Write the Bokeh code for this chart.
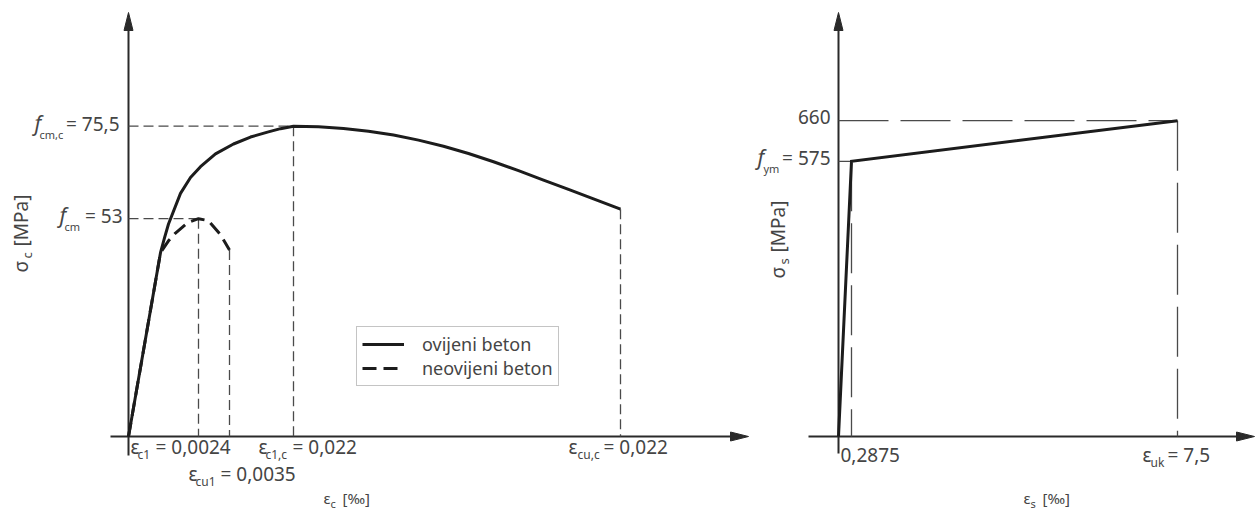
from bokeh.plotting import figure
from bokeh.models import Range1d, Legend, LegendItem
from bokeh.core.properties import value
from bokeh.embed import file_html
from bokeh.resources import INLINE

# ---------------- data ----------------
# concrete (left): schematic horizontal position, stress in MPa
conf_x = [0, 32, 36, 40, 52, 62, 72, 87, 105, 122, 139, 152, 165,
          190, 215, 240, 265, 290, 315, 340, 365, 390, 415, 440, 465, 492]
conf_y = [0, 44.72, 48.33, 51.70, 59.15, 63.00, 65.64, 68.77, 71.17, 72.86, 74.06, 74.90, 75.5,
          75.36, 74.96, 74.27, 73.34, 72.11, 70.62, 68.86, 66.85, 64.68, 62.40, 60.11, 57.83, 55.30]
unc_x = [0, 32, 40, 47, 59, 70, 80, 92, 101]
unc_y = [0, 44.72, 47.6, 49.5, 52.0, 53.0, 52.5, 49.1, 45.4]
fcm_c, fcm = 75.5, 53
x_c1, x_cu1, x_c1c, x_cuc = 70, 101, 165, 492
y_cu1, y_cuc = 45.4, 55.3
labels_left = ["= 75,5", "= 53", "= 0,0024", "= 0,0035", "= 0,022", "= 0,022"]
legend_labels = ["ovijeni beton", "neovijeni beton"]

# steel (right): strain in permille, stress in MPa
st_x = [0, 0.2875, 7.5]
st_y = [0, 575, 660]
labels_right = ["660", "= 575", "0,2875", "= 7,5"]

# ---------------- figure ----------------
W, H = 1256, 510
ky = 4.11           # left: px per MPa, origin at px (128, 436), 1 unit = 1 px in x
kxs, kys = 45.2, 0.4785   # right: px per permille / per MPa, origin at px (838, 436)

p = figure(width=W, height=H, output_backend="svg", toolbar_location=None,
           x_range=Range1d(-128, W - 128), y_range=Range1d(-(H - 436) / ky, 436 / ky),
           x_axis_location=None, y_axis_location=None, min_border=0,
           background_fill_color="white", border_fill_color="white")
p.extra_x_ranges = {"sx": Range1d(-838 / kxs, (W - 838) / kxs)}
p.extra_y_ranges = {"sy": Range1d(-(H - 436) / kys, 436 / kys)}
p.grid.visible = False
p.outline_line_color = None

AX = "#2a2a2a"
CUR = "#1c1c1c"
GUIDE = "#4a4a4a"
TXT = "#454545"
FONT = "Noto Sans"

# ---- left axes ----
ytip = (436 - 12) / ky
p.segment(x0=[0], y0=[-19 / ky], x1=[0], y1=[ytip - 14 / ky], line_color=AX, line_width=2)
p.patch(x=[0, -4.5, 4.5], y=[ytip, ytip - 18 / ky, ytip - 18 / ky], color=AX)
xtip = 748 - 128
p.segment(x0=[-18], y0=[0], x1=[xtip - 14], y1=[0], line_color=AX, line_width=2)
p.patch(x=[xtip, xtip - 18, xtip - 18], y=[0, 4.5 / ky, -4.5 / ky], color=AX)

# ---- left guides ----
gd = dict(line_color=GUIDE, line_width=1.3, line_dash="10 5")
p.segment(x0=[0, 0], y0=[fcm_c, fcm], x1=[x_c1c, x_c1], y1=[fcm_c, fcm], **gd)
p.segment(x0=[x_c1, x_cu1, x_c1c, x_cuc], y0=[fcm, y_cu1, fcm_c, y_cuc],
          x1=[x_c1, x_cu1, x_c1c, x_cuc], y1=[0, 0, 0, 0], **gd)

# ---- left curves ----
r1 = p.line(conf_x, conf_y, line_color=CUR, line_width=3, line_join="round")
r2 = p.line(unc_x, unc_y, line_color=CUR, line_width=3, line_dash="14 7", line_join="round")

leg = Legend(items=[LegendItem(label=legend_labels[0], renderers=[r1]),
                    LegendItem(label=legend_labels[1], renderers=[r2])],
             location=(356, 124), orientation="vertical",
             border_line_color="#8a8a8a", border_line_width=1,
             background_fill_color="white", background_fill_alpha=1,
             label_text_font=FONT, label_text_font_size="18px", label_text_color=TXT,
             glyph_width=42, glyph_height=20, label_height=20, label_standoff=18,
             padding=5, spacing=0, margin=0)
p.add_layout(leg, "center")

ANG = 3.14159265 / 2


def txt(x, y, s, dx, dy, size, italic=False, align="left", rot=False, right=False):
    kw = {}
    if right:
        kw = dict(x_range_name="sx", y_range_name="sy")
    shift = 0.45 * size   # renderer places alphabetic baseline a bit low
    if rot:
        dx -= shift
    else:
        dy -= shift
    p.text(x=[x], y=[y], text=[s], x_offset=dx, y_offset=dy, angle=ANG if rot else 0.0,
           text_font=value(FONT), text_font_size=value(f"{size}px"),
           text_font_style="italic" if italic else "normal",
           text_color=TXT, text_align=align, text_baseline="alphabetic", **kw)


MAIN, SUB, FI = 19, 12, 21
# y-axis labels, left
txt(0, fcm_c, "f", -94, 6, FI, italic=True)
txt(0, fcm_c, "cm,c", -89, 13, 11)
txt(0, fcm_c, labels_left[0], -9, 6, MAIN, align="right")
txt(0, fcm, "f", -69, 6, FI, italic=True)
txt(0, fcm, "cm", -64, 13, 11)
txt(0, fcm, labels_left[1], -6, 6, MAIN, align="right")
# x-axis labels, left
txt(x_c1, 0, "ε", -68, 19, MAIN)
txt(x_c1, 0, "c1", -61, 23, SUB)
txt(x_c1, 0, labels_left[2], -43, 19, MAIN)
txt(x_cu1, 0, "ε", -41, 46, MAIN)
txt(x_cu1, 0, "cu1", -34, 50, SUB)
txt(x_cu1, 0, labels_left[3], -9, 46, MAIN)
txt(x_c1c, 0, "ε", -35, 19, MAIN)
txt(x_c1c, 0, "c1,c", -28, 23, SUB)
txt(x_c1c, 0, labels_left[4], -1, 19, MAIN)
txt(x_cuc, 0, "ε", -52, 19, MAIN)
txt(x_cuc, 0, "cu,c", -43, 23, SUB)
txt(x_cuc, 0, labels_left[5], -17, 19, MAIN)
# axis titles, left
txt(0, 0, "ε", 195, 68, 15)
txt(0, 0, "c", 202, 72, 11)
txt(0, 0, "[‰]", 214, 68, 15)
txt(0, 0, "σ", -99, -164, 19, rot=True)
txt(0, 0, "c", -96, -178, 13, rot=True)
txt(0, 0, "[MPa]", -99, -190, 19, rot=True)

# ---- right axes ----
R = dict(x_range_name="sx", y_range_name="sy")
ytip_s = (436 - 12) / kys
p.segment(x0=[0], y0=[-17 / kys], x1=[0], y1=[ytip_s - 14 / kys], line_color=AX, line_width=2, **R)
p.patch(x=[0, -4.5 / kxs, 4.5 / kxs], y=[ytip_s, ytip_s - 18 / kys, ytip_s - 18 / kys], color=AX, **R)
xtip_s = (1254 - 838) / kxs
p.segment(x0=[-30 / kxs], y0=[0], x1=[xtip_s - 14 / kxs], y1=[0], line_color=AX, line_width=2, **R)
p.patch(x=[xtip_s, xtip_s - 18 / kxs, xtip_s - 18 / kxs], y=[0, 4.5 / kys, -4.5 / kys], color=AX, **R)

# ---- right guides ----
gs = dict(line_color=GUIDE, line_width=1.3, line_dash="50 12")
p.segment(x0=[0], y0=[st_y[2]], x1=[st_x[2]], y1=[st_y[2]], **gs, **R)
p.segment(x0=[st_x[2], st_x[1]], y0=[st_y[2], st_y[1]], x1=[st_x[2], st_x[1]], y1=[0, 0], **gs, **R)
p.segment(x0=[0], y0=[st_y[1]], x1=[st_x[1]], y1=[st_y[1]], line_color=GUIDE, line_width=1.3, **R)

# ---- right curve ----
p.line(st_x, st_y, line_color=CUR, line_width=3, line_join="miter", **R)

# ---- right labels ----
txt(0, st_y[2], labels_right[0], -8, 5, MAIN, align="right", right=True)
txt(0, st_y[1], "f", -81, 5, FI, italic=True, right=True)
txt(0, st_y[1], "ym", -75, 12, 11, right=True)
txt(0, st_y[1], labels_right[1], -8, 5, MAIN, align="right", right=True)
txt(st_x[1], 0, labels_right[2], -11, 27, MAIN, right=True)
txt(st_x[2], 0, "ε", -35, 27, MAIN, right=True)
txt(st_x[2], 0, "uk", -27, 31, SUB, right=True)
txt(st_x[2], 0, labels_right[3], -10, 27, MAIN, right=True)
txt(0, 0, "ε", 185, 68, 15, right=True)
txt(0, 0, "s", 192, 72, 11, right=True)
txt(0, 0, "[‰]", 204, 68, 15, right=True)
txt(0, 0, "σ", -52, -158, 19, rot=True, right=True)
txt(0, 0, "s", -49, -172, 13, rot=True, right=True)
txt(0, 0, "[MPa]", -52, -184, 19, rot=True, right=True)

open("out.html", "w").write(file_html(p, INLINE))
